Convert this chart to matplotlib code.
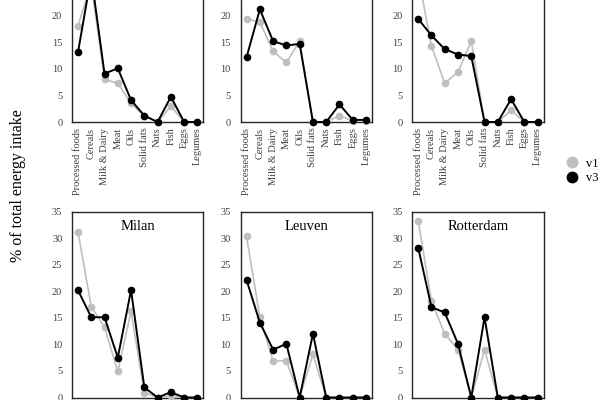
import matplotlib
matplotlib.use("Agg")
import matplotlib.pyplot as plt
from matplotlib.lines import Line2D

plt.rcParams['font.family'] = ['Liberation Serif', 'DejaVu Serif']

# food groups on the x axis
categories = ['Processed foods', 'Cereals', 'Milk & Dairy', 'Meat', 'Oils',
              'Solid fats', 'Nuts', 'Fish', 'Eggs', 'Legumes']

# panel titles (top row titles fall outside the picture)
cities = ['', '', '', 'Milan', 'Leuven', 'Rotterdam']

# % of total energy intake, version 1
v1 = [
    [18.1, 26.0, 8.0, 7.3, 3.5, 1.1, 0.0, 3.0, 0.0, 0.0],
    [19.4, 18.8, 13.3, 11.2, 15.2, 0.0, 0.0, 1.2, 0.2, 0.2],
    [27.5, 14.3, 7.3, 9.4, 15.2, 0.0, 0.0, 2.2, 0.0, 0.0],
    [31.2, 17.1, 13.2, 4.9, 16.2, 0.9, 0.0, 0.3, 0.0, 0.0],
    [30.3, 15.1, 6.9, 6.9, 0.0, 8.1, 0.0, 0.0, 0.0, 0.0],
    [33.3, 18.1, 12.0, 9.0, 0.0, 9.0, 0.0, 0.0, 0.0, 0.0],
]

# % of total energy intake, version 3
v3 = [
    [13.1, 27.5, 9.1, 10.1, 4.1, 1.2, 0.0, 4.75, 0.0, 0.0],
    [12.2, 21.2, 15.2, 14.4, 14.7, 0.0, 0.0, 3.3, 0.4, 0.4],
    [19.4, 16.3, 13.7, 12.7, 12.4, 0.0, 0.0, 4.3, 0.0, 0.0],
    [20.2, 15.1, 15.1, 7.5, 20.2, 1.9, 0.0, 1.0, 0.0, 0.0],
    [22.1, 14.1, 9.0, 10.1, 0.0, 12.0, 0.0, 0.0, 0.0, 0.0],
    [28.2, 17.0, 16.0, 10.1, 0.0, 15.1, 0.0, 0.0, 0.0, 0.0],
]

gray = '#bfbfbf'
tick_col = '#404040'

fig = plt.figure(figsize=(6, 4), dpi=100)

lefts = [0.12, 0.401, 0.687]
width = 0.219
bottoms = [0.695, 0.00625]
height = 0.465

x = list(range(len(categories)))
for i in range(6):
    row, col = divmod(i, 3)
    ax = fig.add_axes([lefts[col], bottoms[row], width, height])
    ax.plot(x, v1[i], color=gray, lw=1.2, marker='o', ms=4.5, clip_on=False, zorder=3)
    ax.plot(x, v3[i], color='black', lw=1.4, marker='o', ms=4.5, clip_on=False, zorder=4)
    ax.set_xlim(-0.45, 9.45)
    ax.set_ylim(0, 35)
    ax.set_xticks(x)
    if row == 0:
        # upper part of the top row lies above the picture
        ax.set_yticks(range(0, 21, 5))
        ax.set_xticklabels(categories, rotation=90, fontsize=7.5)
    else:
        # tick labels of the bottom row lie below the picture
        ax.set_yticks(range(0, 36, 5))
        ax.set_xticklabels([])
    ax.tick_params(axis='both', length=0, colors=tick_col, labelsize=7.5)
    ax.tick_params(axis='y', pad=7)
    ax.tick_params(axis='x', pad=4)
    for sp in ax.spines.values():
        sp.set_color('#262626')
        sp.set_linewidth(1.0)
    if cities[i]:
        ax.text(0.5, 0.92, cities[i], transform=ax.transAxes, ha='center',
                va='center', fontsize=10.5)

fig.text(0.03, 0.535, '% of total energy intake', rotation=90,
         ha='center', va='center', fontsize=11.5)

handles = [Line2D([], [], ls='none', marker='o', ms=7.5, color=gray),
           Line2D([], [], ls='none', marker='o', ms=7.5, color='black')]
fig.legend(handles, ['v1', 'v3'], loc='center left',
           bbox_to_anchor=(0.9425, 0.573), frameon=False, fontsize=9,
           handlelength=1.0, handletextpad=0.6, labelspacing=0.2,
           borderpad=0, borderaxespad=0)

fig.savefig('out.png', dpi=100)
